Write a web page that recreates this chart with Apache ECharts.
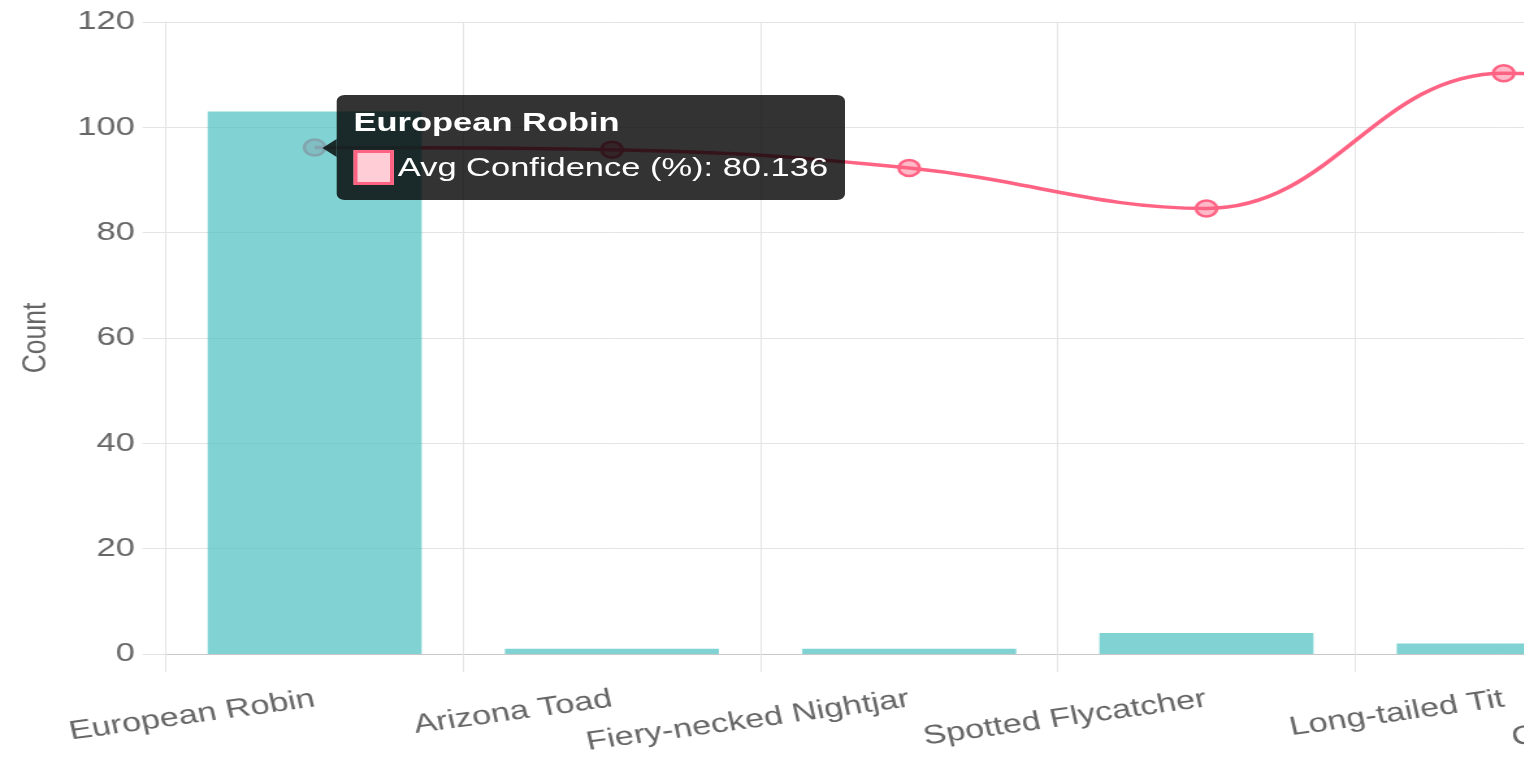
<!DOCTYPE html>
<html><head><meta charset="utf-8">
<script src="https://cdn.jsdelivr.net/npm/echarts@6/dist/echarts.min.js"></script>
<style>
html,body{margin:0;padding:0;overflow:hidden;background:#fff;width:1524px;height:763px;}
#chart{position:absolute;left:0;top:0;width:1600px;height:763px;transform:scaleX(1.3);transform-origin:0 0;}
</style></head><body><div id="chart"></div>
<script>
const categories = ['European Robin', 'Arizona Toad', 'Fiery-necked Nightjar', 'Spotted Flycatcher', 'Long-tailed Tit', 'Common Chiffchaff'];
const countValues = [103, 1, 1, 4, 2, 2];
const confidenceValues = [80.136, 79.8, 76.9, 70.5, 91.9, 85];
const countTicks = [0, 20, 40, 60, 80, 100, 120];
const confidenceRange = [0, 100];
const countName = 'Count';
const confidenceName = 'Avg Confidence (%)';

const FONT = "'Liberation Sans', Arial, Helvetica, sans-serif";
const GRID = '#e4e4e4';
const chart = echarts.init(document.getElementById('chart'), null, {renderer: 'canvas'});
chart.setOption({
  animation: false,
  textStyle: {fontFamily: FONT},
  grid: {left: 127.7, top: 22, height: 632, width: 1372, containLabel: false, outerBoundsMode: 'none'},
  tooltip: {
    trigger: 'item',
    triggerOn: 'none',
    alwaysShowContent: true,
    position: function (point, params, dom, rect, size) {
      if (rect) {
        return [rect.x + rect.width + 7.5, rect.y + rect.height / 2 - size.contentSize[1] / 2];
      }
      return [point[0] + 16, point[1] - size.contentSize[1] / 2];
    },
    backgroundColor: 'rgba(0,0,0,0.8)',
    borderWidth: 0,
    borderRadius: 6,
    padding: [12, 13, 15, 13],
    transitionDuration: 0,
    extraCssText: 'box-shadow:none;overflow:visible;',
    textStyle: {color: '#fff', fontSize: 26.5, fontFamily: FONT},
    formatter: function (p) {
      return '<div style="position:absolute;left:-11px;top:50%;margin-top:-9px;width:0;height:0;border-top:9px solid transparent;border-bottom:9px solid transparent;border-right:11px solid rgba(0,0,0,0.8);"></div>' +
        '<div style="font-weight:bold;line-height:30px;height:30px;margin-bottom:12px;white-space:nowrap;">' + p.name + '</div>' +
        '<div style="line-height:36px;height:36px;display:flex;align-items:center;white-space:nowrap;">' +
        '<span style="display:inline-block;width:25px;height:29px;border:3px solid #ff6384;background:#ffcdd6;margin-right:3px;"></span>' +
        p.seriesName + ': ' + p.value + '</div>';
    }
  },
  xAxis: {
    type: 'category',
    data: categories,
    boundaryGap: true,
    axisLine: {show: true, lineStyle: {color: '#c8c8c8', width: 1}},
    axisTick: {show: true, length: 18, lineStyle: {color: GRID}},
    axisLabel: {rotate: 10, margin: 45, color: '#666', fontSize: 26.5, fontFamily: FONT, interval: 0},
    splitLine: {show: true, lineStyle: {color: GRID, width: 1}}
  },
  yAxis: [{
    type: 'value',
    position: 'left',
    min: countTicks[0],
    max: countTicks[countTicks.length - 1],
    interval: countTicks[1] - countTicks[0],
    name: countName,
    nameLocation: 'middle',
    nameGap: 87,
    nameTextStyle: {color: '#666', fontSize: 26.5, fontFamily: FONT},
    axisLine: {show: true, lineStyle: {color: GRID}},
    axisTick: {show: true, length: 18, lineStyle: {color: GRID}},
    axisLabel: {margin: 24, color: '#666', fontSize: 26.5, fontFamily: FONT},
    splitLine: {show: true, lineStyle: {color: GRID, width: 1}}
  }, {
    type: 'value',
    position: 'right',
    show: false,
    min: confidenceRange[0],
    max: confidenceRange[1],
    splitLine: {show: false}
  }],
  series: [{
    name: confidenceName,
    type: 'line',
    yAxisIndex: 1,
    data: confidenceValues,
    smooth: 0.4,
    symbol: 'circle',
    symbolSize: 16,
    z: 2,
    lineStyle: {color: '#ff6384', width: 3.5},
    itemStyle: {color: 'rgba(255,99,132,0.45)', borderColor: '#ff6384', borderWidth: 2.5}
  }, {
    name: countName,
    type: 'bar',
    yAxisIndex: 0,
    data: countValues,
    barWidth: '72%',
    z: 3,
    tooltip: {show: false},
    itemStyle: {color: 'rgba(75,192,192,0.7)'}
  }]
});
function showTip() { chart.dispatchAction({type: 'showTip', seriesIndex: 0, dataIndex: 0}); }
showTip();
setTimeout(showTip, 30);
</script>
</body></html>
